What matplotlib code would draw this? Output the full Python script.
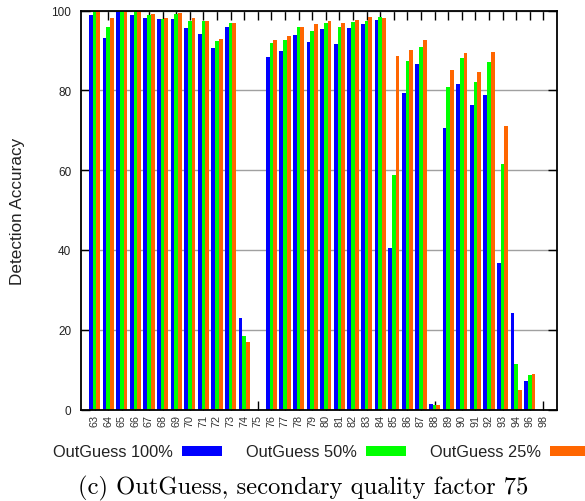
import matplotlib
matplotlib.use("Agg")
import matplotlib.pyplot as plt
import numpy as np

categories = [str(c) for c in list(range(63, 95)) + [96, 98]]
outguess_100 = [98.9, 93.1, 99.7, 98.9, 98.2, 97.9, 97.9, 95.5, 94.1, 90.7, 95.8, 23.0, 0,
                88.3, 89.9, 93.8, 92.1, 95.3, 91.7, 95.5, 96.7, 97.7, 40.5, 79.3, 86.5, 1.3,
                70.5, 81.5, 76.4, 78.8, 36.8, 24.1, 7.2, 0]
outguess_50 = [100, 95.8, 100, 99.8, 98.9, 97.9, 99.1, 97.3, 97.3, 92.3, 96.8, 18.5, 0,
               91.8, 92.6, 95.8, 94.8, 96.9, 95.8, 97.2, 97.4, 98.4, 58.8, 87.3, 90.8, 1.1,
               80.8, 88.0, 82.0, 87.1, 61.6, 11.5, 8.6, 0]
outguess_25 = [100, 98.2, 100, 99.8, 99.2, 98.2, 99.4, 98.2, 97.3, 92.8, 96.8, 16.8, 0,
               92.5, 93.5, 95.8, 96.5, 97.4, 96.9, 97.7, 98.4, 98.2, 88.5, 90.2, 92.6, 1.1,
               85.1, 89.3, 84.7, 89.5, 71.1, 4.8, 8.8, 0]
series_labels = ["OutGuess 100%", "OutGuess 50%", "OutGuess 25%"]
colors = ["#0000ff", "#00ff00", "#ff6600"]
yticks = [0, 20, 40, 60, 80, 100]

W, H = 585, 502
fig = plt.figure(figsize=(W / 100, H / 100), dpi=100)
ax = fig.add_axes([81 / W, 1 - 410.5 / H, 476 / W, 399 / H])

x = np.arange(len(categories))
bw = 0.27
handles = []
for k, (vals, c, lab) in enumerate(zip([outguess_100, outguess_50, outguess_25], colors, series_labels)):
    h = ax.bar(x + (k - 1) * bw, vals, width=bw, color=c, label=lab, zorder=3, linewidth=0)
    handles.append(h)

ax.set_xlim(-1, len(categories))
ax.set_ylim(0, 100)
ax.set_axisbelow(True)
ax.yaxis.grid(True, color="#a0a0a0", linewidth=1.0)
ax.set_yticks(yticks)
ax.set_xticks(x)
ax.set_xticklabels(categories, rotation=90, fontsize=7.8, family="Liberation Sans", color="#333333")
ax.tick_params(axis="x", direction="in", length=6.5, width=1.0, top=True, pad=3)
ax.tick_params(axis="y", direction="in", length=6.5, width=1.0, right=True, labelsize=8.5, pad=7,
               labelcolor="#222222")
for t in ax.get_yticklabels():
    t.set_family("Liberation Sans")
for s in ax.spines.values():
    s.set_linewidth(1.3)
    s.set_zorder(4)

ax.set_ylabel("Detection Accuracy", fontsize=12.3, family="Liberation Sans", color="#222222")
ax.yaxis.set_label_coords(-0.118, 0.5)

leg = fig.legend(handles=handles, labels=series_labels, loc="center left",
                 bbox_to_anchor=(53 / W, 1 - 453 / H), ncol=3, frameon=False,
                 markerfirst=False, handlelength=2.45, handleheight=0.55, handletextpad=0.55,
                 columnspacing=1.45, borderpad=0, borderaxespad=0,
                 prop={"family": "Liberation Sans", "size": 11.8})
for t in leg.get_texts():
    t.set_color("#222222")

fig.text(303 / W, 1 - 488 / H, "(c) OutGuess, secondary quality factor 75",
         ha="center", va="center", fontsize=17.7, family="cmr10")

fig.savefig("out.png", dpi=100)
